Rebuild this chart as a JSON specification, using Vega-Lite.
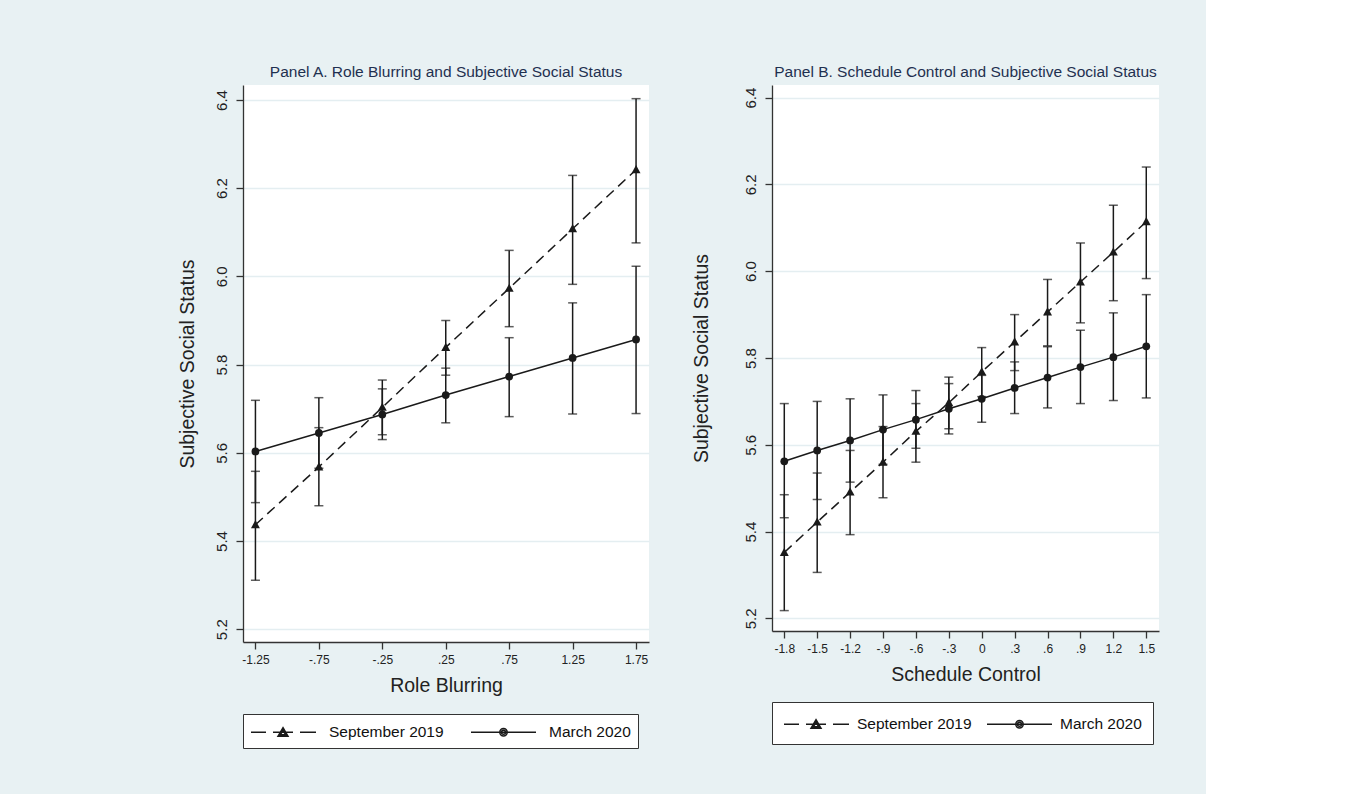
{
  "$schema": "https://vega.github.io/schema/vega-lite/v6.json",
  "background": "#e8f1f3",
  "padding": {"left": 177, "top": 64, "right": 38, "bottom": 45},
  "datasets": {
    "A": [
      {"x": -1.25, "series": "September 2019", "y": 5.437, "lo": 5.311, "hi": 5.558},
      {"x": -0.75, "series": "September 2019", "y": 5.568, "lo": 5.480, "hi": 5.657},
      {"x": -0.25, "series": "September 2019", "y": 5.703, "lo": 5.641, "hi": 5.765},
      {"x": 0.25, "series": "September 2019", "y": 5.839, "lo": 5.776, "hi": 5.900},
      {"x": 0.75, "series": "September 2019", "y": 5.973, "lo": 5.886, "hi": 6.059},
      {"x": 1.25, "series": "September 2019", "y": 6.108, "lo": 5.982, "hi": 6.229},
      {"x": 1.75, "series": "September 2019", "y": 6.242, "lo": 6.076, "hi": 6.403},
      {"x": -1.25, "series": "March 2020", "y": 5.603, "lo": 5.487, "hi": 5.719},
      {"x": -0.75, "series": "March 2020", "y": 5.645, "lo": 5.565, "hi": 5.725},
      {"x": -0.25, "series": "March 2020", "y": 5.687, "lo": 5.630, "hi": 5.745},
      {"x": 0.25, "series": "March 2020", "y": 5.731, "lo": 5.668, "hi": 5.792},
      {"x": 0.75, "series": "March 2020", "y": 5.773, "lo": 5.682, "hi": 5.861},
      {"x": 1.25, "series": "March 2020", "y": 5.815, "lo": 5.688, "hi": 5.940},
      {"x": 1.75, "series": "March 2020", "y": 5.857, "lo": 5.689, "hi": 6.023}
    ],
    "B": [
      {"x": -1.8, "series": "September 2019", "y": 5.352, "lo": 5.218, "hi": 5.485},
      {"x": -1.5, "series": "September 2019", "y": 5.422, "lo": 5.306, "hi": 5.535},
      {"x": -1.2, "series": "September 2019", "y": 5.491, "lo": 5.393, "hi": 5.587},
      {"x": -0.9, "series": "September 2019", "y": 5.560, "lo": 5.478, "hi": 5.642},
      {"x": -0.6, "series": "September 2019", "y": 5.631, "lo": 5.560, "hi": 5.695},
      {"x": -0.3, "series": "September 2019", "y": 5.697, "lo": 5.637, "hi": 5.756},
      {"x": 0, "series": "September 2019", "y": 5.768, "lo": 5.711, "hi": 5.824},
      {"x": 0.3, "series": "September 2019", "y": 5.837, "lo": 5.771, "hi": 5.900},
      {"x": 0.6, "series": "September 2019", "y": 5.906, "lo": 5.828, "hi": 5.981},
      {"x": 0.9, "series": "September 2019", "y": 5.975, "lo": 5.881, "hi": 6.065},
      {"x": 1.2, "series": "September 2019", "y": 6.044, "lo": 5.932, "hi": 6.152},
      {"x": 1.5, "series": "September 2019", "y": 6.114, "lo": 5.983, "hi": 6.240},
      {"x": -1.8, "series": "March 2020", "y": 5.562, "lo": 5.432, "hi": 5.695},
      {"x": -1.5, "series": "March 2020", "y": 5.587, "lo": 5.474, "hi": 5.700},
      {"x": -1.2, "series": "March 2020", "y": 5.610, "lo": 5.514, "hi": 5.706},
      {"x": -0.9, "series": "March 2020", "y": 5.635, "lo": 5.555, "hi": 5.715},
      {"x": -0.6, "series": "March 2020", "y": 5.658, "lo": 5.592, "hi": 5.725},
      {"x": -0.3, "series": "March 2020", "y": 5.683, "lo": 5.625, "hi": 5.741},
      {"x": 0, "series": "March 2020", "y": 5.706, "lo": 5.652, "hi": 5.760},
      {"x": 0.3, "series": "March 2020", "y": 5.731, "lo": 5.672, "hi": 5.791},
      {"x": 0.6, "series": "March 2020", "y": 5.755, "lo": 5.685, "hi": 5.826},
      {"x": 0.9, "series": "March 2020", "y": 5.779, "lo": 5.695, "hi": 5.864},
      {"x": 1.2, "series": "March 2020", "y": 5.802, "lo": 5.702, "hi": 5.904},
      {"x": 1.5, "series": "March 2020", "y": 5.827, "lo": 5.708, "hi": 5.946}
    ]
  },
  "spacing": 33,
  "resolve": {"scale": {"shape": "independent"}, "legend": {"shape": "independent"}},
  "hconcat": [
    {
      "width": 406,
      "height": 557,
      "title": {"text": "Panel A. Role Blurring and Subjective Social Status"},
      "data": {"name": "A"},
      "encoding": {
        "x": {
          "field": "x", "type": "quantitative",
          "scale": {"domain": [-1.348, 1.852], "nice": false, "zero": false},
          "axis": {
            "title": "Role Blurring",
            "values": [-1.25, -0.75, -0.25, 0.25, 0.75, 1.25, 1.75],
            "labelExpr": "datum.value == 0 ? '0' : (datum.value < 0 ? '-' : '') + replace(format(abs(datum.value), '.2f'), '0.', '.')"
          }
        },
        "y": {
          "field": "y", "type": "quantitative",
          "scale": {"domain": [5.171, 6.434], "nice": false, "zero": false},
          "axis": {"title": "Subjective Social Status", "values": [5.2, 5.4, 5.6, 5.8, 6.0, 6.2, 6.4], "format": ".1f", "titlePadding": 17}
        }
      },
      "layer": [
        {"mark": {"type": "rule", "color": "#1a1a1a", "strokeWidth": 1.5}, "encoding": {"y": {"field": "lo", "type": "quantitative"}, "y2": {"field": "hi"}}},
        {"mark": {"type": "tick", "orient": "horizontal", "color": "#1a1a1a", "size": 9, "thickness": 1.5}, "encoding": {"y": {"field": "lo", "type": "quantitative"}}},
        {"mark": {"type": "tick", "orient": "horizontal", "color": "#1a1a1a", "size": 9, "thickness": 1.5}, "encoding": {"y": {"field": "hi", "type": "quantitative"}}},
        {"transform": [{"filter": "datum.series === 'September 2019'"}], "mark": {"type": "line", "color": "#1a1a1a", "strokeWidth": 1.5, "strokeDash": [10, 6]}, "encoding": {}},
        {"transform": [{"filter": "datum.series === 'March 2020'"}], "mark": {"type": "line", "color": "#1a1a1a", "strokeWidth": 1.5}, "encoding": {}},
        {"transform": [{"filter": "datum.series === 'September 2019'"}], "mark": {"type": "point", "filled": true, "color": "#1a1a1a", "opacity": 1, "size": 60, "shape": "M0,-1.2L1.15,0.9L-1.15,0.9Z"}, "encoding": {}},
        {"transform": [{"filter": "datum.series === 'March 2020'"}], "mark": {"type": "point", "filled": true, "color": "#1a1a1a", "opacity": 1, "size": 60, "shape": "circle"}, "encoding": {}},
        {
          "mark": {"type": "point", "filled": false, "color": "#1a1a1a", "strokeWidth": 1.5, "opacity": 0, "size": 60},
          "encoding": {
            "shape": {
              "field": "series", "type": "nominal",
              "scale": {"domain": ["September 2019", "March 2020"], "range": ["M-1,0H0.5M1.2,0H3.2M3.9,0H5.5M2.2,-0.45L2.7,0.4L1.7,0.4ZM2.2,-0.2L2.45,0.25L1.95,0.25Z", "M-1,0H5.5M1.88,0A0.37,0.37 0 1,0 2.62,0A0.37,0.37 0 1,0 1.88,0ZM2.05,0A0.2,0.2 0 1,0 2.45,0A0.2,0.2 0 1,0 2.05,0Z"]},
              "legend": {
                "title": null, "orient": "bottom", "direction": "horizontal",
                "offset": 19, "padding": 7, "columnPadding": 24, "symbolSize": 400, "labelOffset": 57,
                "symbolOpacity": 1, "symbolFillColor": "#1a1a1a", "symbolStrokeColor": "#1a1a1a", "symbolStrokeWidth": 1.5
              }
            }
          }
        }
      ]
    },
    {
      "width": 387,
      "height": 546,
      "title": {"text": "Panel B. Schedule Control and Subjective Social Status"},
      "data": {"name": "B"},
      "encoding": {
        "x": {
          "field": "x", "type": "quantitative",
          "scale": {"domain": [-1.912, 1.616], "nice": false, "zero": false},
          "axis": {
            "title": "Schedule Control",
            "values": [-1.8, -1.5, -1.2, -0.9, -0.6, -0.3, 0, 0.3, 0.6, 0.9, 1.2, 1.5],
            "labelExpr": "datum.value == 0 ? '0' : (datum.value < 0 ? '-' : '') + replace(format(abs(datum.value), '.1f'), '0.', '.')"
          }
        },
        "y": {
          "field": "y", "type": "quantitative",
          "scale": {"domain": [5.171, 6.429], "nice": false, "zero": false},
          "axis": {"title": "Subjective Social Status", "values": [5.2, 5.4, 5.6, 5.8, 6.0, 6.2, 6.4], "format": ".1f", "titlePadding": 32}
        }
      },
      "layer": [
        {"mark": {"type": "rule", "color": "#1a1a1a", "strokeWidth": 1.5}, "encoding": {"y": {"field": "lo", "type": "quantitative"}, "y2": {"field": "hi"}}},
        {"mark": {"type": "tick", "orient": "horizontal", "color": "#1a1a1a", "size": 9, "thickness": 1.5}, "encoding": {"y": {"field": "lo", "type": "quantitative"}}},
        {"mark": {"type": "tick", "orient": "horizontal", "color": "#1a1a1a", "size": 9, "thickness": 1.5}, "encoding": {"y": {"field": "hi", "type": "quantitative"}}},
        {"transform": [{"filter": "datum.series === 'September 2019'"}], "mark": {"type": "line", "color": "#1a1a1a", "strokeWidth": 1.5, "strokeDash": [10, 6]}, "encoding": {}},
        {"transform": [{"filter": "datum.series === 'March 2020'"}], "mark": {"type": "line", "color": "#1a1a1a", "strokeWidth": 1.5}, "encoding": {}},
        {"transform": [{"filter": "datum.series === 'September 2019'"}], "mark": {"type": "point", "filled": true, "color": "#1a1a1a", "opacity": 1, "size": 60, "shape": "M0,-1.2L1.15,0.9L-1.15,0.9Z"}, "encoding": {}},
        {"transform": [{"filter": "datum.series === 'March 2020'"}], "mark": {"type": "point", "filled": true, "color": "#1a1a1a", "opacity": 1, "size": 60, "shape": "circle"}, "encoding": {}},
        {
          "mark": {"type": "point", "filled": false, "color": "#1a1a1a", "strokeWidth": 1.5, "opacity": 0, "size": 60},
          "encoding": {
            "shape": {
              "field": "series", "type": "nominal",
              "scale": {"domain": ["September 2019", "March 2020"], "range": ["M-1,0H0.5M1.2,0H3.2M3.9,0H5.5M2.2,-0.45L2.7,0.4L1.7,0.4ZM2.2,-0.2L2.45,0.25L1.95,0.25Z", "M-1,0H5.5M1.88,0A0.37,0.37 0 1,0 2.62,0A0.37,0.37 0 1,0 1.88,0ZM2.05,0A0.2,0.2 0 1,0 2.45,0A0.2,0.2 0 1,0 2.05,0Z"]},
              "legend": {
                "title": null, "orient": "bottom", "direction": "horizontal",
                "offset": 18, "padding": 11, "columnPadding": 12, "symbolSize": 400, "labelOffset": 52,
                "symbolOpacity": 1, "symbolFillColor": "#1a1a1a", "symbolStrokeColor": "#1a1a1a", "symbolStrokeWidth": 1.5
              }
            }
          }
        }
      ]
    }
  ],
  "config": {
    "font": "Liberation Sans",
    "view": {"fill": "white", "stroke": null},
    "title": {"font": "Liberation Sans", "fontSize": 15.5, "fontWeight": "normal", "color": "#1f3050", "offset": 5, "anchor": "middle"},
    "axis": {
      "domainColor": "#333333", "domainWidth": 1.3, "tickColor": "#333333", "tickWidth": 1.3, "tickSize": 7,
      "labelColor": "#222222", "titleColor": "#222222", "labelFont": "Liberation Sans", "titleFont": "Liberation Sans",
      "titleFontWeight": "normal", "titleFontSize": 19.5
    },
    "axisX": {"grid": false, "labelFontSize": 12, "labelPadding": 5, "titlePadding": 11},
    "axisY": {"grid": true, "gridColor": "#e4eef1", "gridWidth": 1.3, "labelFontSize": 15, "labelAngle": -90, "labelPadding": 7},
    "legend": {
      "labelFont": "Liberation Sans", "labelFontSize": 15.5, "labelColor": "#111111",
      "strokeColor": "#333333", "fillColor": "white"
    }
  }
}
